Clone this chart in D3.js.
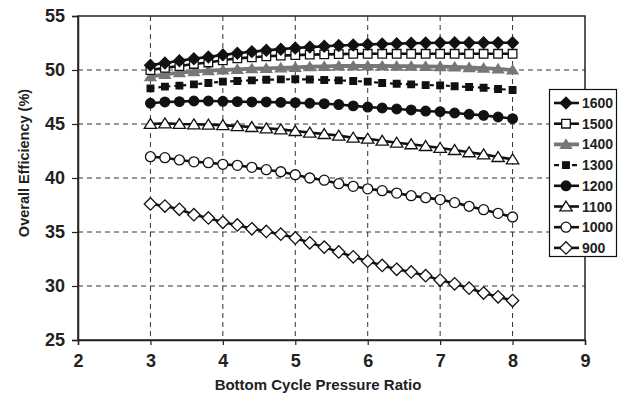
<!DOCTYPE html>
<html>
<head>
<meta charset="utf-8">
<script src="https://cdn.jsdelivr.net/npm/d3@7"></script>
<style>
  html, body { margin: 0; padding: 0; background: #fff; }
  svg { display: block; font-family: "Liberation Sans", Arial, sans-serif; }
</style>
</head>
<body>
<svg id="chart" width="626" height="397"></svg>
<script>
// Bottom cycle pressure ratio (x) for every series
const pressureRatio = [3.0, 3.2, 3.4, 3.6, 3.8, 4.0, 4.2, 4.4, 4.6, 4.8, 5.0, 5.2, 5.4,
                       5.6, 5.8, 6.0, 6.2, 6.4, 6.6, 6.8, 7.0, 7.2, 7.4, 7.6, 7.8, 8.0];

// Overall efficiency (%) for each turbine inlet temperature
const eff1600 = [50.45, 50.65, 50.85, 51.05, 51.2, 51.4, 51.55, 51.7, 51.82, 51.93, 52.03, 52.12, 52.2,
                 52.27, 52.32, 52.37, 52.41, 52.44, 52.47, 52.5, 52.52, 52.53, 52.53, 52.53, 52.53, 52.53];
const eff1500 = [50.0, 50.2, 50.37, 50.56, 50.7, 50.9, 51.08, 51.17, 51.27, 51.33, 51.38, 51.42, 51.45,
                 51.47, 51.5, 51.5, 51.5, 51.5, 51.5, 51.5, 51.5, 51.5, 51.5, 51.5, 51.5, 51.5];
const eff1400 = [49.38, 49.6, 49.75, 49.85, 49.94, 50.0, 50.06, 50.12, 50.15, 50.2, 50.25, 50.3, 50.34,
                 50.37, 50.37, 50.37, 50.37, 50.36, 50.35, 50.34, 50.32, 50.28, 50.23, 50.17, 50.1, 50.0];
const eff1300 = [48.3, 48.46, 48.55, 48.67, 48.8, 48.92, 48.98, 49.04, 49.1, 49.13, 49.15, 49.12, 49.08,
                 49.04, 48.98, 48.92, 48.8, 48.73, 48.67, 48.6, 48.58, 48.49, 48.43, 48.36, 48.24, 48.15];
const eff1200 = [46.92, 47.04, 47.07, 47.13, 47.13, 47.1, 47.07, 47.04, 47.04, 47.0, 46.97, 46.92, 46.88,
                 46.8, 46.68, 46.57, 46.48, 46.39, 46.3, 46.2, 46.14, 46.02, 45.9, 45.8, 45.65, 45.5];
const eff1100 = [45.0, 45.06, 45.0, 44.97, 44.94, 44.9, 44.8, 44.72, 44.6, 44.5, 44.35, 44.2, 44.07,
                 43.92, 43.73, 43.64, 43.45, 43.27, 43.12, 42.96, 42.78, 42.59, 42.38, 42.19, 41.94, 41.73];
const eff1000 = [41.97, 41.88, 41.67, 41.5, 41.42, 41.27, 41.17, 40.99, 40.77, 40.58, 40.3, 40.0, 39.8,
                 39.47, 39.23, 39.0, 38.83, 38.6, 38.36, 38.18, 38.0, 37.72, 37.38, 37.07, 36.73, 36.39];
const eff900  = [37.6, 37.4, 37.1, 36.6, 36.3, 35.9, 35.65, 35.3, 35.05, 34.8, 34.45, 34.0, 33.6,
                 33.15, 32.7, 32.3, 31.9, 31.55, 31.3, 30.95, 30.55, 30.2, 29.8, 29.35, 29.0, 28.65];

const seriesNames = ["1600", "1500", "1400", "1300", "1200", "1100", "1000", "900"];
const seriesValues = [eff1600, eff1500, eff1400, eff1300, eff1200, eff1100, eff1000, eff900];

const xTicks = [2, 3, 4, 5, 6, 7, 8, 9];
const yTicks = [25, 30, 35, 40, 45, 50, 55];

const xTitle = "Bottom Cycle Pressure Ratio";
const yTitle = "Overall Efficiency (%)";

// Visual style for each series: marker shape, fill, line
const styles = {
  "1600": { shape: "diamond", size: 5.8, fill: "#111", stroke: "#111", line: "#111", width: 2.6, dash: null },
  "1500": { shape: "square",  size: 4.3, fill: "#fff", stroke: "#111", line: "#111", width: 2.6, dash: null },
  "1400": { shape: "triangle",size: 5.5, fill: "#777", stroke: "#777", line: "#777", width: 3.8, dash: null },
  "1300": { shape: "square",  size: 3.3, fill: "#111", stroke: "#111", line: "#111", width: 2.2, dash: "4,4" },
  "1200": { shape: "circle",  size: 4.8, fill: "#111", stroke: "#111", line: "#111", width: 2.6, dash: null },
  "1100": { shape: "triangle",size: 6.2, fill: "#fff", stroke: "#111", line: "#111", width: 2.6, dash: null },
  "1000": { shape: "circle",  size: 5,   fill: "#fff", stroke: "#111", line: "#111", width: 2.6, dash: null },
  "900":  { shape: "diamond", size: 6.2, fill: "#fff", stroke: "#111", line: "#111", width: 2.6, dash: null }
};

const svg = d3.select("#chart");
const margin = { left: 78, right: 41, top: 16, bottom: 57 };
const W = 626, H = 397;
const x = d3.scaleLinear().domain([2, 9]).range([margin.left, W - margin.right]);
const y = d3.scaleLinear().domain([25, 55]).range([H - margin.bottom, margin.top]);

// Dashed gridlines
const grid = svg.append("g");
grid.selectAll("line.h").data(yTicks.filter(t => t > 25 && t < 55)).join("line")
  .attr("x1", x(2)).attr("x2", x(9))
  .attr("y1", d => y(d)).attr("y2", d => y(d))
  .attr("stroke", "#333").attr("stroke-width", 1).attr("stroke-dasharray", "5,4");
grid.selectAll("line.v").data(xTicks.filter(t => t > 2 && t < 9)).join("line")
  .attr("x1", d => x(d)).attr("x2", d => x(d))
  .attr("y1", y(55)).attr("y2", y(25))
  .attr("stroke", "#333").attr("stroke-width", 1).attr("stroke-dasharray", "5,4");

// Plot frame
svg.append("rect")
  .attr("x", x(2)).attr("y", y(55))
  .attr("width", x(9) - x(2)).attr("height", y(25) - y(55))
  .attr("fill", "none").attr("stroke", "#222").attr("stroke-width", 1.5);

// Axes
const xAxis = svg.append("g").attr("transform", `translate(0,${y(25)})`)
  .call(d3.axisBottom(x).tickValues(xTicks).tickSize(5).tickPadding(9).tickFormat(d3.format("d")));
const yAxis = svg.append("g").attr("transform", `translate(${x(2)},0)`)
  .call(d3.axisLeft(y).tickValues(yTicks).tickSize(6).tickPadding(7).tickFormat(d3.format("d")));
[xAxis, yAxis].forEach(a => {
  a.select(".domain").attr("stroke", "#222").attr("stroke-width", 1.5);
  a.selectAll(".tick line").attr("stroke", "#222").attr("stroke-width", 1.2);
  a.selectAll(".tick text").attr("fill", "#222")
    .style("font-size", "18px").style("font-weight", "bold")
    .style("font-family", "'Liberation Sans', Arial, sans-serif");
});

// Axis titles
svg.append("text")
  .attr("x", 318).attr("y", 390)
  .attr("text-anchor", "middle")
  .style("font-size", "15px").style("font-weight", "bold").attr("fill", "#222")
  .text(xTitle);
svg.append("text")
  .attr("transform", "translate(29,163) rotate(-90)")
  .attr("text-anchor", "middle")
  .style("font-size", "14.5px").style("font-weight", "bold").attr("fill", "#222")
  .text(yTitle);

// Marker path builder
function markerPath(shape, s) {
  if (shape === "circle") {
    return `M${s},0A${s},${s},0,1,1,${-s},0A${s},${s},0,1,1,${s},0Z`;
  }
  if (shape === "square") {
    return `M${-s},${-s}H${s}V${s}H${-s}Z`;
  }
  if (shape === "diamond") {
    return `M0,${-s}L${s},0L0,${s}L${-s},0Z`;
  }
  // triangle
  const h = s * 1.6;
  return `M0,${-h * 0.55}L${s},${h * 0.45}L${-s},${h * 0.45}Z`;
}

const line = d3.line().x(d => x(d[0])).y(d => y(d[1]));

// Draw series back-to-front so upper series stay on top
const order = seriesNames.map((n, i) => i).reverse();
order.forEach(i => {
  const name = seriesNames[i];
  const st = styles[name];
  const pts = pressureRatio.map((p, j) => [p, seriesValues[i][j]]);
  const g = svg.append("g").attr("class", "series s" + name);
  g.append("path").datum(pts)
    .attr("d", line)
    .attr("fill", "none").attr("stroke", st.line).attr("stroke-width", st.width)
    .attr("stroke-dasharray", st.dash);
  g.selectAll("path.m").data(pts).join("path").attr("class", "m")
    .attr("transform", d => `translate(${x(d[0])},${y(d[1])})`)
    .attr("d", markerPath(st.shape, st.size))
    .attr("fill", st.fill).attr("stroke", st.stroke).attr("stroke-width", 1.3);
});

// Legend
const legend = svg.append("g");
legend.append("rect")
  .attr("x", 549.5).attr("y", 89.5).attr("width", 67).attr("height", 167)
  .attr("fill", "#fff").attr("stroke", "#111").attr("stroke-width", 1.2);
const item = legend.selectAll("g.item").data(seriesNames).join("g")
  .attr("class", "item")
  .attr("transform", (d, i) => `translate(566,${103 + i * 20.7})`);
item.append("line")
  .attr("x1", -12).attr("x2", 13).attr("y1", 0).attr("y2", 0)
  .attr("stroke", d => styles[d].line)
  .attr("stroke-width", d => styles[d].width)
  .attr("stroke-dasharray", d => styles[d].dash ? "5,4" : null);
item.append("path")
  .attr("d", d => markerPath(styles[d].shape, styles[d].size))
  .attr("fill", d => styles[d].fill).attr("stroke", d => styles[d].stroke).attr("stroke-width", 1.3);
item.append("text")
  .attr("x", 16).attr("y", 5)
  .style("font-size", "14px").style("font-weight", "bold").attr("fill", "#222")
  .text(d => d);
</script>
</body>
</html>
